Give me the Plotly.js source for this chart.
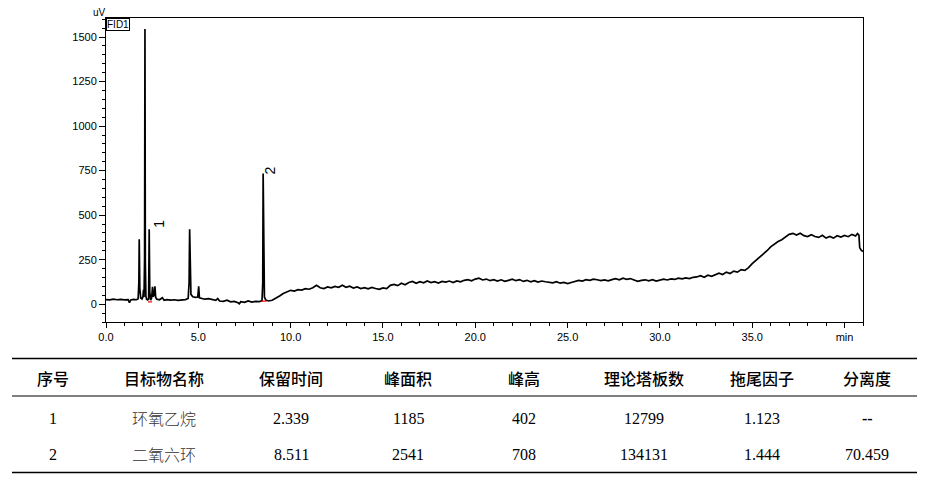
<!DOCTYPE html>
<html>
<head>
<meta charset="utf-8">
<script src="https://cdn.plot.ly/plotly-3.0.1.min.js"></script>
<style>
html,body{margin:0;padding:0;background:#fff;}
#chart{width:926px;height:481px;}
</style>
</head>
<body>
<div id="chart"></div>
<script>
// ---- chromatogram data (min, uV) ----
const timeA = [0, 0.2, 0.4, 0.6, 0.8, 1.0, 1.2, 1.27, 1.34, 1.5, 1.65, 1.74, 1.78, 1.80, 1.83, 1.88, 1.95, 2.0, 2.03, 2.06, 2.09, 2.11, 2.13, 2.16, 2.2, 2.26, 2.31, 2.339, 2.37, 2.42, 2.47, 2.52, 2.56, 2.61, 2.65, 2.69, 2.75];
const sigA  = [26, 24, 28, 25, 27, 24, 26, 8, 24, 27, 25, 30, 120, 365, 90, 35, 30, 42, 80, 40, 260, 1545, 240, 45, 28, 24, 30, 421, 70, 22, 34, 97, 42, 55, 100, 38, 28];

const timeB = [2.9, 3.05, 3.15, 3.3, 3.5, 3.7, 3.9, 4.1, 4.3, 4.45, 4.5, 4.53, 4.56, 4.6, 4.7, 4.85, 4.97, 5.02, 5.06, 5.15, 5.35, 5.55, 5.75, 5.95, 6.05, 6.15, 6.35, 6.55, 6.75, 6.95, 7.15, 7.22, 7.3, 7.5, 7.7, 7.9, 8.1, 8.3, 8.45, 8.49, 8.511, 8.54, 8.58, 8.65, 8.8];
const sigB  = [25, 36, 22, 26, 23, 25, 21, 23, 26, 32, 120, 421, 130, 55, 42, 38, 40, 100, 36, 33, 28, 31, 25, 22, 32, 18, 16, 22, 13, 16, 8, 2, 14, 10, 18, 12, 16, 14, 20, 120, 734, 160, 40, 24, 18];

const timeC = [9.0, 9.2, 9.4, 9.6, 9.8, 10.0, 10.2, 10.4, 10.6, 10.8, 11.0, 11.2, 11.4, 11.6, 11.8, 12.0, 12.2, 12.4, 12.6, 12.8, 13.0, 13.2, 13.4, 13.6, 13.8, 14.0, 14.2, 14.4, 14.6, 14.8, 15.0, 15.2, 15.4, 15.6, 15.8, 16.0, 16.2, 16.4, 16.6, 16.8, 17.0, 17.2, 17.4, 17.6, 17.8, 18.0, 18.2, 18.4, 18.6, 18.8, 19.0, 19.2, 19.4, 19.6, 19.8, 20.0];
const sigC  = [22, 32, 46, 60, 70, 78, 74, 82, 79, 87, 84, 92, 106, 92, 88, 97, 92, 100, 95, 107, 95, 101, 91, 97, 88, 93, 86, 94, 88, 83, 91, 88, 106, 111, 104, 118, 109, 122, 128, 117, 126, 120, 130, 121, 126, 119, 128, 124, 130, 122, 131, 126, 134, 138, 131, 141];

const timeD = [20.2, 20.4, 20.6, 20.8, 21.0, 21.2, 21.4, 21.6, 21.8, 22.0, 22.2, 22.4, 22.6, 22.8, 23.0, 23.2, 23.4, 23.6, 23.8, 24.0, 24.2, 24.4, 24.6, 24.8, 25.0, 25.2, 25.4, 25.6, 25.8, 26.0, 26.2, 26.4, 26.6, 26.8, 27.0, 27.2, 27.4, 27.6, 27.8, 28.0, 28.2, 28.4, 28.6, 28.8, 29.0, 29.2, 29.4, 29.6, 29.8, 30.0, 30.2, 30.4, 30.6, 30.8, 31.0, 31.2, 31.4, 31.6, 31.8, 32.0, 32.2, 32.4, 32.6, 32.8, 33.0, 33.2, 33.4, 33.6, 33.8, 34.0, 34.2, 34.4, 34.6, 34.8, 35.0];
const sigD  = [146, 136, 141, 132, 138, 130, 137, 128, 134, 140, 132, 138, 128, 134, 126, 132, 124, 130, 126, 124, 120, 126, 118, 122, 116, 122, 128, 134, 130, 138, 134, 141, 137, 132, 136, 131, 138, 143, 137, 146, 140, 144, 136, 128, 134, 137, 131, 138, 130, 137, 141, 136, 142, 139, 146, 142, 148, 144, 151, 153, 160, 151, 163, 157, 165, 174, 167, 180, 172, 186, 180, 194, 190, 205, 228];

const timeE = [35.2, 35.4, 35.6, 35.8, 36.0, 36.2, 36.4, 36.6, 36.8, 37.0, 37.2, 37.4, 37.6, 37.8, 38.0, 38.2, 38.4, 38.6, 38.8, 39.0, 39.2, 39.4, 39.6, 39.8, 40.0, 40.2, 40.4, 40.6, 40.7, 40.78, 40.82, 40.9, 41.0];
const sigE  = [246, 262, 282, 300, 322, 338, 352, 362, 375, 392, 398, 388, 398, 385, 380, 390, 380, 375, 387, 371, 380, 371, 384, 377, 386, 379, 392, 383, 397, 388, 318, 303, 296];

// integration baselines (red)
const baseTime = [2.27, 2.49, null, 8.43, 8.70];
const baseSig  = [13, 13, null, 17, 17];

// peak labels
const peakLabels = ['1', '2'];
const peakLabelTime = [2.85, 8.9];
const peakLabelSig = [450, 753];

// axis ticks
const xTickVals = [0, 5, 10, 15, 20, 25, 30, 35, 40];
const xTickText = ['0.0', '5.0', '10.0', '15.0', '20.0', '25.0', '30.0', '35.0', 'min'];
const yTickVals = [0, 250, 500, 750, 1000, 1250, 1500];

// ---- table data ----
const tableHeaders = ['序号', '目标物名称', '保留时间', '峰面积', '峰高', '理论塔板数', '拖尾因子', '分离度'];
const colIndex = ['1', '2'];
const colName = ['环氧乙烷', '二氧六环'];
const colRT = ['2.339', '8.511'];
const colArea = ['1185', '2541'];
const colHeight = ['402', '708'];
const colPlates = ['12799', '134131'];
const colTailing = ['1.123', '1.444'];
const colResolution = ['<b>--</b>', '70.459'];

// ---- layout geometry (pixels) ----
const W = 926, H = 481;
const plotL = 106, plotR = 863, plotT = 18, plotB = 322;
const px2x = p => (p - plotL) / (plotR - plotL);
const py2y = p => (plotB - p) / (plotB - plotT);

const time = [].concat(timeA, timeB, timeC, timeD, timeE);
const signal = [].concat(sigA, sigB, sigC, sigD, sigE);

const traces = [
  {x: time, y: signal, type: 'scatter', mode: 'lines',
   line: {color: '#000', width: 1.7}, hoverinfo: 'skip'},
  {x: baseTime, y: baseSig, type: 'scatter', mode: 'lines',
   line: {color: '#ff0000', width: 1.2}, hoverinfo: 'skip'}
];

const annotations = [];
peakLabels.forEach((t, i) => annotations.push({
  x: peakLabelTime[i], y: peakLabelSig[i], xref: 'x', yref: 'y', text: t,
  showarrow: false, textangle: -90, font: {size: 14, color: '#000', family: 'Liberation Sans, Arial'}
}));
annotations.push({x: px2x(99), y: py2y(12), xref: 'paper', yref: 'paper', text: 'uV',
  showarrow: false, font: {size: 10, color: '#000'}, xanchor: 'center', yanchor: 'middle'});
annotations.push({x: 0, y: 1, xref: 'paper', yref: 'paper', text: 'FID1', showarrow: false,
  xanchor: 'left', yanchor: 'top', bordercolor: '#000', borderwidth: 1, borderpad: 0,
  bgcolor: '#fff', font: {size: 10, color: '#000'}});

const colCenters = [53, 164, 291, 408, 524, 644, 762, 867];
const headerY = 378, row1Y = 418, row2Y = 454;
tableHeaders.forEach((h, i) => annotations.push({
  x: px2x(colCenters[i]), y: py2y(headerY), xref: 'paper', yref: 'paper', text: h,
  showarrow: false, xanchor: 'center', yanchor: 'middle',
  font: {size: 16, color: '#000', family: 'Noto Sans CJK SC', weight: 500}
}));
const cols = [colIndex, colName, colRT, colArea, colHeight, colPlates, colTailing, colResolution];
cols.forEach((col, ci) => col.forEach((v, ri) => annotations.push({
  x: px2x(colCenters[ci]), y: py2y(ri === 0 ? row1Y : row2Y), xref: 'paper', yref: 'paper', text: v,
  showarrow: false, xanchor: 'center', yanchor: 'middle',
  font: ci === 1 ? {size: 16, color: '#333', family: 'Noto Sans CJK SC', weight: 300}
                 : {size: 16, color: '#000', family: 'Liberation Serif, Times New Roman'}
})));

const hline = (py, w) => ({type: 'line', xref: 'paper', yref: 'paper',
  x0: px2x(12), x1: px2x(917), y0: py2y(py), y1: py2y(py), line: {color: '#000', width: w}});
const shapes = [hline(358.5, 1.5), hline(396, 1), hline(472.5, 1.5)];

const layout = {
  width: W, height: H,
  margin: {l: plotL, r: W - plotR, t: plotT, b: H - plotB, pad: 0},
  paper_bgcolor: '#fff', plot_bgcolor: '#fff',
  font: {family: 'Liberation Sans, Arial', size: 11, color: '#000'},
  showlegend: false,
  xaxis: {range: [0, 41], tickvals: xTickVals, ticktext: xTickText,
    ticks: 'outside', ticklen: 5, tickwidth: 1, tickcolor: '#000',
    showline: true, linecolor: '#000', linewidth: 1, mirror: true,
    showgrid: false, zeroline: false, tickfont: {size: 11},
    minor: {dtick: 1, tick0: 0, ticks: 'outside', ticklen: 3, tickcolor: '#000', showgrid: false}},
  yaxis: {range: [-100, 1607], tickvals: yTickVals,
    ticks: 'outside', ticklen: 6, tickwidth: 1, tickcolor: '#000',
    showline: true, linecolor: '#000', linewidth: 1, mirror: true,
    showgrid: false, zeroline: false, tickfont: {size: 11},
    minor: {dtick: 50, tick0: 0, ticks: 'outside', ticklen: 3, tickcolor: '#000', showgrid: false}},
  annotations: annotations,
  shapes: shapes
};

Plotly.newPlot('chart', traces, layout, {staticPlot: true, displayModeBar: false});
</script>
</body>
</html>
